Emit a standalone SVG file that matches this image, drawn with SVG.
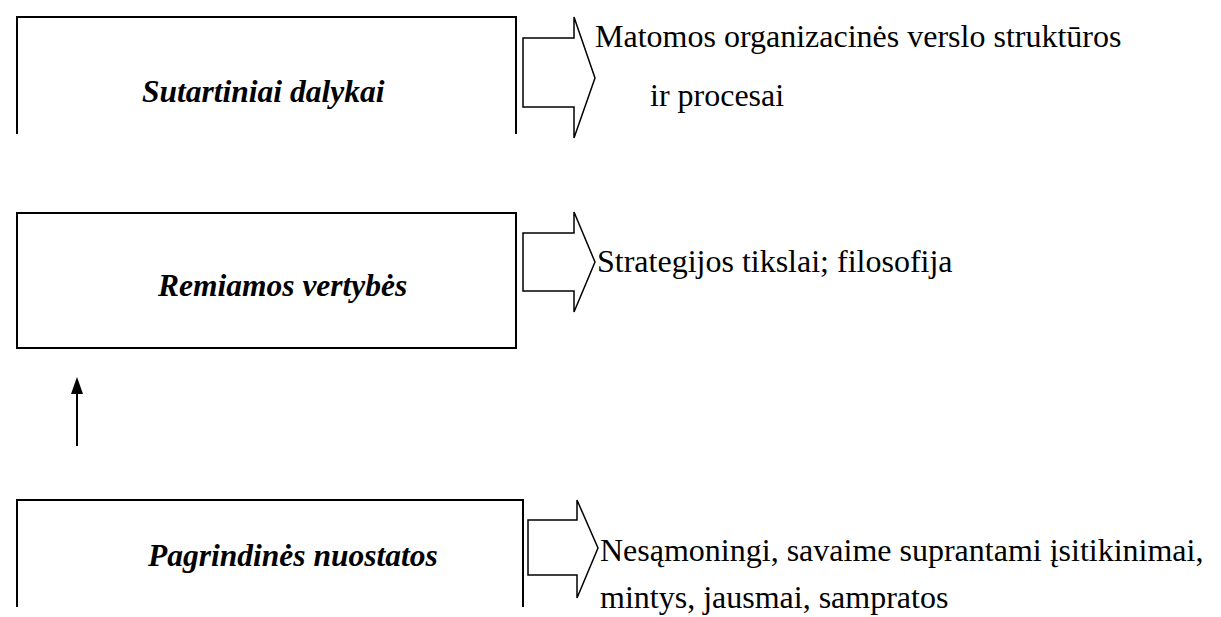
<svg xmlns="http://www.w3.org/2000/svg" width="1221" height="617" viewBox="0 0 1221 617">
<style>
.box{fill:none;stroke:#000;stroke-width:2}
.blk{fill:none;stroke:#000;stroke-width:1.5}
.title{font-family:"Liberation Serif",serif;font-weight:bold;font-style:italic;font-size:31.5px;fill:#000}
.body{font-family:"Liberation Serif",serif;font-size:32px;fill:#000}
</style>
<rect width="1221" height="617" fill="#fff"/>
<g id="node-sutartiniai">
<path class="box" d="M17,134 V17 H516 V134"/>
<text class="title" x="142" y="102">Sutartiniai dalykai</text>
</g>
<g id="node-remiamos">
<rect class="box" x="17" y="213" width="499" height="135"/>
<text class="title" x="158" y="296">Remiamos vertybės</text>
</g>
<g id="node-pagrindines">
<path class="box" d="M17,607 V500 H523 V607"/>
<text class="title" x="148" y="566">Pagrindinės nuostatos</text>
</g>
<g id="label-1">
<text class="body" x="595" y="47">Matomos organizacinės verslo struktūros</text>
<text class="body" x="650" y="106">ir procesai</text>
</g>
<g id="label-2">
<text class="body" x="597" y="272">Strategijos tikslai; filosofija</text>
</g>
<g id="label-3">
<text class="body" x="600" y="561">Nesąmoningi, savaime suprantami įsitikinimai,</text>
<text class="body" x="600" y="608">mintys, jausmai, sampratos</text>
</g>
<g id="connectors">
<path class="blk" d="M523,38 H574 V17 L595,78 L574,138 V107 H523 Z"/>
<path class="blk" d="M523,233 H574 V212 L595,262 L574,312 V291 H523 Z"/>
<path class="blk" d="M528,520 H577 V500 L598,548 L577,598 V575 H528 Z"/>
<line x1="77" y1="446" x2="77" y2="392" stroke="#000" stroke-width="2"/>
<path d="M77,377 L83,394 L71,394 Z" fill="#000"/>
</g>
</svg>
